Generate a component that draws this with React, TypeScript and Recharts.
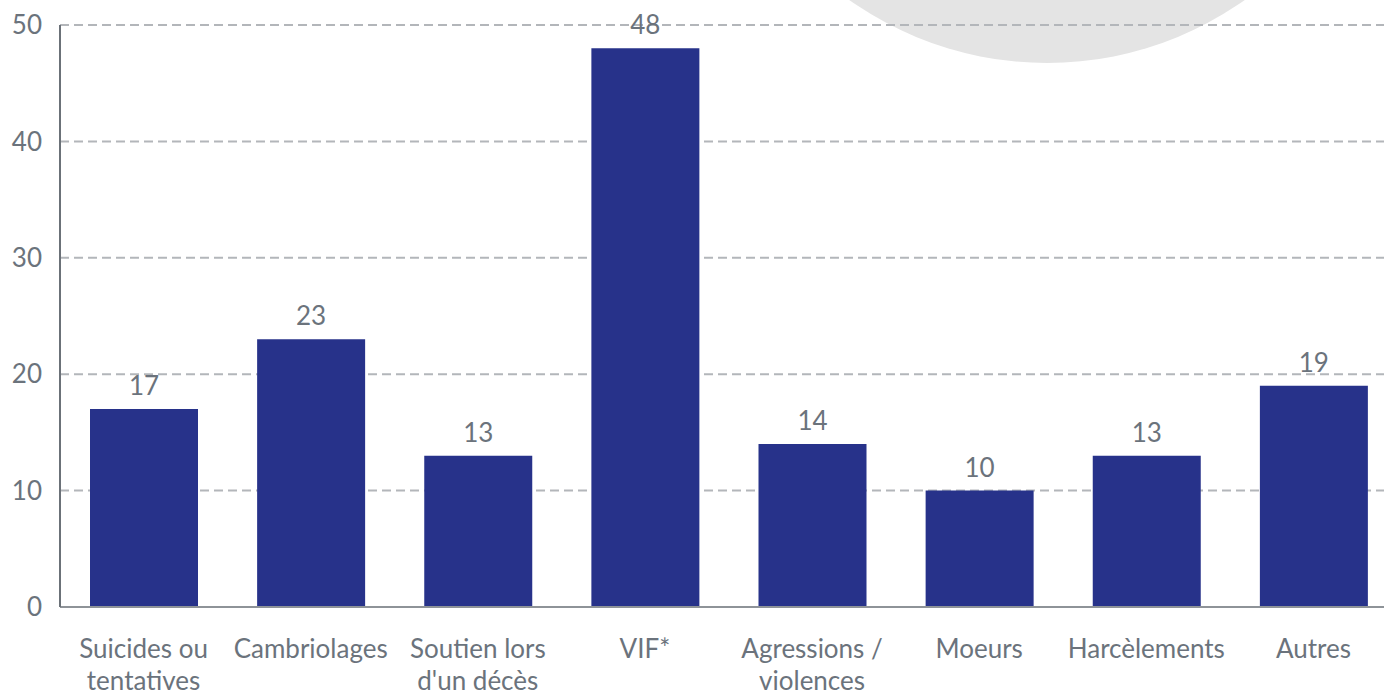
import React from 'react';
import { BarChart, Bar, XAxis, YAxis, CartesianGrid, LabelList } from 'recharts';

const categories = [
  'Suicides ou tentatives',
  'Cambriolages',
  "Soutien lors d'un décès",
  'VIF*',
  'Agressions / violences',
  'Moeurs',
  'Harcèlements',
  'Autres',
];
const counts = [17, 23, 13, 48, 14, 10, 13, 19];
const yTicks = [0, 10, 20, 30, 40, 50];

const data = categories.map((name, i) => ({ name, value: counts[i] }));

const TEXT = '#6b737c';
const FONT = 'Lato, sans-serif';
const FS = 26;

// greedy word wrap, about 12 characters per line
const wrap = (s: string, max = 12) => {
  const lines: string[] = [];
  let cur = '';
  s.split(' ').forEach((w) => {
    const next = cur ? cur + ' ' + w : w;
    if (next.length > max && cur) {
      lines.push(cur);
      cur = w;
    } else cur = next;
  });
  if (cur) lines.push(cur);
  return lines;
};

const CategoryTick = (props: any) => {
  const { x, y, payload } = props;
  return (
    <text x={x} y={y + 43} textAnchor="middle" fill={TEXT} fontSize={FS} fontFamily={FONT}>
      {wrap(payload.value).map((l, i) => (
        <tspan key={i} x={x} dy={i === 0 ? 0 : 32}>
          {l}
        </tspan>
      ))}
    </text>
  );
};

export default function App() {
  return (
    <div style={{ position: 'absolute', left: 0, top: 0, width: 1384, height: 692, overflow: 'hidden', background: '#fff' }}>
      <div
        style={{
          position: 'absolute',
          left: 1047 - 342,
          top: -279 - 342,
          width: 684,
          height: 684,
          borderRadius: '50%',
          background: '#e4e4e4',
        }}
      />
      <BarChart
        width={1397}
        height={692}
        data={data}
        margin={{ top: 25, right: 0, left: 0, bottom: 0 }}
        style={{ position: 'absolute', left: 0, top: 0 }}
      >
        <CartesianGrid
          vertical={false}
          stroke="#b3b6ba"
          strokeWidth={2}
          strokeDasharray="9 5"
          horizontalValues={[10, 20, 30, 40, 50]}
        />
        <XAxis
          dataKey="name"
          interval={0}
          height={85}
          tickLine={false}
          axisLine={{ stroke: '#8e9398', strokeWidth: 2 }}
          tick={<CategoryTick />}
        />
        <YAxis
          width={60}
          domain={[0, 50]}
          ticks={yTicks}
          tickLine={false}
          axisLine={{ stroke: '#6b7178', strokeWidth: 2 }}
          tickMargin={12}
          tick={{ fill: TEXT, fontSize: FS, fontFamily: FONT }}
        />
        <Bar dataKey="value" fill="#27328a" barSize={108} isAnimationActive={false}>
          <LabelList dataKey="value" position="top" offset={14} fill={TEXT} fontSize={FS} fontFamily={FONT} />
        </Bar>
      </BarChart>
    </div>
  );
}
